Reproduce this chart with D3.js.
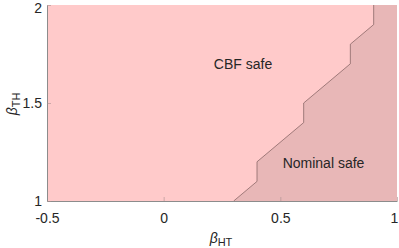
<!DOCTYPE html>
<html>
<head>
<meta charset="utf-8">
<script src="https://cdn.jsdelivr.net/npm/d3@7"></script>
<style>
  body { margin: 0; background: #fff; }
  svg text { font-family: "Liberation Sans", Arial, sans-serif; fill: #262626; }
</style>
</head>
<body>
<div class="chart"></div>
<script>
var w = 399;
var h = 248;
var paddingTop = 5;
var paddingBottom = 47;
var paddingLeft = 47;
var paddingRight = 2;

// boundary between CBF safe and nominal safe regions
var boundaryHT = [0.3, 0.4, 0.4, 0.6, 0.6, 0.8, 0.8, 0.9, 0.9];
var boundaryTH = [1.0, 1.1, 1.2, 1.4, 1.5, 1.7, 1.8, 1.9, 2.0];

var xTicks = [-0.5, 0, 0.5, 1];
var xTickLabels = ["-0.5", "0", "0.5", "1"];
var yTicks = [1, 1.5, 2];
var yTickLabels = ["1", "1.5", "2"];

var regionLabels = ["CBF safe", "Nominal safe"];
var regionLabelPos = [[0.34, 1.69], [0.685, 1.185]];

var xScale = d3.scaleLinear()
               .domain([-0.5, 1])
               .range([paddingLeft, w - paddingRight]);

var yScale = d3.scaleLinear()
               .domain([1, 2])
               .range([h - paddingBottom, paddingTop]);

var svg = d3.select(".chart").append("svg")
            .attr("width", w)
            .attr("height", h);

// whole plot area: CBF safe
svg.append("rect")
   .attr("x", xScale(-0.5))
   .attr("y", yScale(2))
   .attr("width", xScale(1) - xScale(-0.5))
   .attr("height", yScale(1) - yScale(2))
   .style("fill", "#ffcaca");

// nominal safe region
var boundary = boundaryHT.map(function(d, i) { return [d, boundaryTH[i]]; });
var region = boundary.concat([[1, 2], [1, 1]]);

var line = d3.line()
             .x(function(d) { return xScale(d[0]); })
             .y(function(d) { return yScale(d[1]); });

svg.append("path")
   .attr("d", line(region) + "Z")
   .style("fill", "#e8b7b7");

svg.append("path")
   .attr("d", line(boundary))
   .style("fill", "none")
   .style("stroke", "#7d5c5c")
   .style("stroke-width", 0.7);

// axes
var xAxis = d3.axisBottom(xScale)
              .tickValues(xTicks)
              .tickFormat(function(d, i) { return xTickLabels[i]; })
              .tickSizeInner(-4)
              .tickSizeOuter(0)
              .tickPadding(12);

var yAxis = d3.axisLeft(yScale)
              .tickValues(yTicks)
              .tickFormat(function(d, i) { return yTickLabels[i]; })
              .tickSizeInner(-4)
              .tickSizeOuter(0)
              .tickPadding(5);

var gx = svg.append("g")
   .attr("transform", "translate(0," + (h - paddingBottom) + ")")
   .call(xAxis);

var gy = svg.append("g")
   .attr("transform", "translate(" + paddingLeft + ",0)")
   .call(yAxis);

[gx, gy].forEach(function(g) {
  g.select(".domain").style("stroke", "#8c8c8c").style("stroke-width", 1);
  g.selectAll(".tick line").style("stroke", "#a88f8f").style("stroke-width", 0.6);
  g.selectAll(".tick text")
   .style("font-size", "14px")
   .style("fill", "#262626")
   .style("font-family", "Liberation Sans, Arial, sans-serif");
});
// keep the last x label and the top y label inside the window
gx.selectAll(".tick text").filter(function(d) { return d === 1; }).attr("dx", -3);
gy.selectAll(".tick text").filter(function(d) { return d === 2; }).attr("dy", "0.55em");

// region labels
svg.selectAll(".regionLabel")
   .data(regionLabels)
   .enter()
   .append("text")
   .attr("class", "regionLabel")
   .attr("x", function(d, i) { return xScale(regionLabelPos[i][0]); })
   .attr("y", function(d, i) { return yScale(regionLabelPos[i][1]); })
   .attr("text-anchor", "middle")
   .attr("dominant-baseline", "middle")
   .style("font-size", "14px")
   .text(function(d) { return d; });

// axis labels
var xLabel = svg.append("text")
   .attr("x", 221)
   .attr("y", 243)
   .attr("text-anchor", "middle")
   .style("font-size", "14px");
xLabel.append("tspan").style("font-style", "italic").text("\u03b2");
xLabel.append("tspan").attr("dy", 3).style("font-size", "11px").text("HT");

var yLabel = svg.append("text")
   .attr("transform", "translate(17,104) rotate(-90)")
   .attr("text-anchor", "middle")
   .style("font-size", "14px");
yLabel.append("tspan").style("font-style", "italic").text("\u03b2");
yLabel.append("tspan").attr("dy", 3).style("font-size", "11px").text("TH");
</script>
</body>
</html>
